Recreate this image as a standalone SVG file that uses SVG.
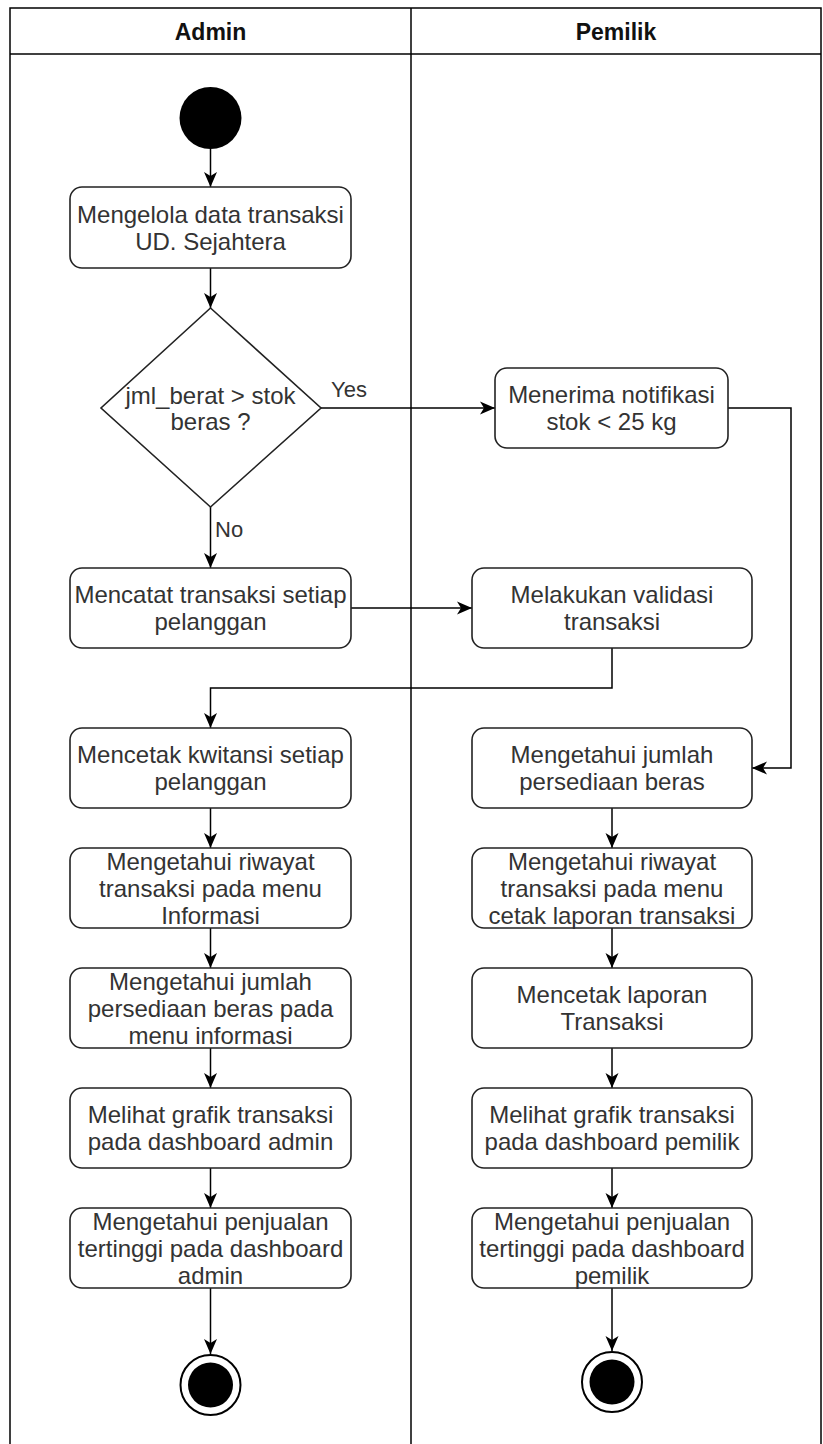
<svg xmlns="http://www.w3.org/2000/svg" width="823" height="1444" viewBox="0 0 823 1444">
  <style>
    .lane { fill: none; stroke: #000; stroke-width: 1.5; }
    .lane-title { font-family: "Liberation Sans", Arial, sans-serif; font-size: 23px; font-weight: bold; fill: #111; text-anchor: middle; }
    .act { fill: #fff; stroke: #222; stroke-width: 1.6; }
    .lbl { font-family: "Liberation Sans", Arial, sans-serif; font-size: 24px; fill: #333; text-anchor: middle; }
    .edge-lbl { font-family: "Liberation Sans", Arial, sans-serif; font-size: 22px; fill: #333; }
    .flow { fill: none; stroke: #000; stroke-width: 1.5; marker-end: url(#arrow); }
  </style>
  <defs>
    <marker id="arrow" viewBox="0 0 16 15" refX="16" refY="7.5" markerWidth="16" markerHeight="15" markerUnits="userSpaceOnUse" orient="auto">
      <path d="M1,1 L16,7.5 L1,14 L5,7.5 Z" fill="#000"/>
    </marker>
  </defs>

  <rect width="823" height="1444" fill="#fff"/>

  <!-- swimlanes -->
  <g id="lanes">
    <path class="lane" d="M10,1444 V8 H821 V1444"/>
    <line class="lane" x1="10" y1="54" x2="821" y2="54"/>
    <line class="lane" x1="411" y1="8" x2="411" y2="1444"/>
    <text class="lane-title" x="210.5" y="39.5">Admin</text>
    <text class="lane-title" x="616" y="39.5">Pemilik</text>
  </g>

  <!-- connectors -->
  <g id="connectors">
    <line class="flow" x1="210.5" y1="149" x2="210.5" y2="187"/>
    <line class="flow" x1="210.5" y1="268" x2="210.5" y2="308"/>
    <line class="flow" x1="321" y1="408" x2="495" y2="408"/>
    <text class="edge-lbl" x="331" y="397">Yes</text>
    <line class="flow" x1="210.5" y1="507" x2="210.5" y2="568"/>
    <text class="edge-lbl" x="215" y="537">No</text>
    <polyline class="flow" points="728,408 791,408 791,768 752,768"/>
    <line class="flow" x1="351" y1="608" x2="472" y2="608"/>
    <polyline class="flow" points="612,648 612,688 210.5,688 210.5,728"/>
    <line class="flow" x1="210.5" y1="808" x2="210.5" y2="848"/>
    <line class="flow" x1="210.5" y1="928" x2="210.5" y2="968"/>
    <line class="flow" x1="210.5" y1="1048" x2="210.5" y2="1088"/>
    <line class="flow" x1="210.5" y1="1168" x2="210.5" y2="1208"/>
    <line class="flow" x1="210.5" y1="1288" x2="210.5" y2="1354"/>
    <line class="flow" x1="612" y1="808" x2="612" y2="848"/>
    <line class="flow" x1="612" y1="928" x2="612" y2="968"/>
    <line class="flow" x1="612" y1="1048" x2="612" y2="1088"/>
    <line class="flow" x1="612" y1="1168" x2="612" y2="1208"/>
    <line class="flow" x1="612" y1="1288" x2="612" y2="1351"/>
  </g>

  <!-- Admin lane -->
  <g id="start">
    <circle cx="210.5" cy="118" r="31" fill="#000"/>
  </g>
  <g id="mengelola">
    <rect class="act" x="70" y="187" width="281" height="81" rx="12"/>
    <text class="lbl" x="210.5" y="222.5">Mengelola data transaksi</text>
    <text class="lbl" x="210.5" y="249.5">UD. Sejahtera</text>
  </g>
  <g id="cek-stok">
    <polygon class="act" points="210.5,308 321,408 210.5,507 101,408"/>
    <text class="lbl" x="210.5" y="404">jml_berat &gt; stok</text>
    <text class="lbl" x="210.5" y="430">beras ?</text>
  </g>
  <g id="mencatat">
    <rect class="act" x="70" y="568" width="281" height="80" rx="12"/>
    <text class="lbl" x="210.5" y="603">Mencatat transaksi setiap</text>
    <text class="lbl" x="210.5" y="630">pelanggan</text>
  </g>
  <g id="mencetak-kwitansi">
    <rect class="act" x="70" y="728" width="281" height="80" rx="12"/>
    <text class="lbl" x="210.5" y="763">Mencetak kwitansi setiap</text>
    <text class="lbl" x="210.5" y="790">pelanggan</text>
  </g>
  <g id="riwayat-admin">
    <rect class="act" x="70" y="848" width="281" height="80" rx="12"/>
    <text class="lbl" x="210.5" y="869.5">Mengetahui riwayat</text>
    <text class="lbl" x="210.5" y="896.5">transaksi pada menu</text>
    <text class="lbl" x="210.5" y="923.5">Informasi</text>
  </g>
  <g id="persediaan-admin">
    <rect class="act" x="70" y="968" width="281" height="80" rx="12"/>
    <text class="lbl" x="210.5" y="989.5">Mengetahui jumlah</text>
    <text class="lbl" x="210.5" y="1016.5">persediaan beras pada</text>
    <text class="lbl" x="210.5" y="1043.5">menu informasi</text>
  </g>
  <g id="grafik-admin">
    <rect class="act" x="70" y="1088" width="281" height="80" rx="12"/>
    <text class="lbl" x="210.5" y="1123">Melihat grafik transaksi</text>
    <text class="lbl" x="210.5" y="1150">pada dashboard admin</text>
  </g>
  <g id="penjualan-admin">
    <rect class="act" x="70" y="1208" width="281" height="80" rx="12"/>
    <text class="lbl" x="210.5" y="1229.5">Mengetahui penjualan</text>
    <text class="lbl" x="210.5" y="1256.5">tertinggi pada dashboard</text>
    <text class="lbl" x="210.5" y="1283.5">admin</text>
  </g>
  <g id="end-admin">
    <circle cx="210.5" cy="1385" r="30" fill="#fff" stroke="#000" stroke-width="2"/>
    <circle cx="210.5" cy="1385" r="22.5" fill="#000"/>
  </g>

  <!-- Pemilik lane -->
  <g id="notifikasi">
    <rect class="act" x="495" y="368" width="233" height="80" rx="12"/>
    <text class="lbl" x="611.5" y="403">Menerima notifikasi</text>
    <text class="lbl" x="611.5" y="430">stok &lt; 25 kg</text>
  </g>
  <g id="validasi">
    <rect class="act" x="472" y="568" width="280" height="80" rx="12"/>
    <text class="lbl" x="612" y="603">Melakukan validasi</text>
    <text class="lbl" x="612" y="630">transaksi</text>
  </g>
  <g id="persediaan-pemilik">
    <rect class="act" x="472" y="728" width="280" height="80" rx="12"/>
    <text class="lbl" x="612" y="763">Mengetahui jumlah</text>
    <text class="lbl" x="612" y="790">persediaan beras</text>
  </g>
  <g id="riwayat-pemilik">
    <rect class="act" x="472" y="848" width="280" height="80" rx="12"/>
    <text class="lbl" x="612" y="869.5">Mengetahui riwayat</text>
    <text class="lbl" x="612" y="896.5">transaksi pada menu</text>
    <text class="lbl" x="612" y="923.5">cetak laporan transaksi</text>
  </g>
  <g id="cetak-laporan">
    <rect class="act" x="472" y="968" width="280" height="80" rx="12"/>
    <text class="lbl" x="612" y="1003">Mencetak laporan</text>
    <text class="lbl" x="612" y="1030">Transaksi</text>
  </g>
  <g id="grafik-pemilik">
    <rect class="act" x="472" y="1088" width="280" height="80" rx="12"/>
    <text class="lbl" x="612" y="1123">Melihat grafik transaksi</text>
    <text class="lbl" x="612" y="1150">pada dashboard pemilik</text>
  </g>
  <g id="penjualan-pemilik">
    <rect class="act" x="472" y="1208" width="280" height="80" rx="12"/>
    <text class="lbl" x="612" y="1229.5">Mengetahui penjualan</text>
    <text class="lbl" x="612" y="1256.5">tertinggi pada dashboard</text>
    <text class="lbl" x="612" y="1283.5">pemilik</text>
  </g>
  <g id="end-pemilik">
    <circle cx="612" cy="1382" r="30" fill="#fff" stroke="#000" stroke-width="2"/>
    <circle cx="612" cy="1382" r="22.5" fill="#000"/>
  </g>
</svg>
